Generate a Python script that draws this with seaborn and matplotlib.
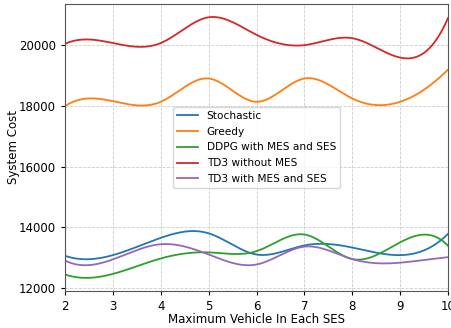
import numpy as np
import pandas as pd
import matplotlib
matplotlib.use('Agg')
import matplotlib.pyplot as plt
import seaborn as sns

# 데이터
vehicles = [2, 3, 4, 5, 6, 7, 8, 9, 10]
stochastic = [13056, 13080, 13650, 13800, 13100, 13400, 13330, 13080, 13780]
greedy = [18000, 18160, 18140, 18910, 18140, 18910, 18250, 18140, 19200]
ddpg_mes_ses = [12440, 12460, 12970, 13170, 13210, 13760, 12950, 13500, 13390]
td3_no_mes = [20056, 20080, 20080, 20930, 20350, 20010, 20240, 19600, 20900]
td3_mes_ses = [12900, 12940, 13440, 13100, 12770, 13360, 12950, 12830, 13010]

series_names = ['Stochastic', 'Greedy', 'DDPG with MES and SES',
                'TD3 without MES', 'TD3 with MES and SES']
series_values = [stochastic, greedy, ddpg_mes_ses, td3_no_mes, td3_mes_ses]


# not-a-knot 3차 스플라인 (등간격 노드)
def smooth_spline(x, y, n_points=300):
    x = np.asarray(x, dtype=float)
    y = np.asarray(y, dtype=float)
    n = len(x) - 1
    h = x[1] - x[0]
    A = np.zeros((n + 1, n + 1))
    b = np.zeros(n + 1)
    A[0, 0:3] = [1, -2, 1]
    A[n, n - 2:n + 1] = [1, -2, 1]
    for i in range(1, n):
        A[i, i - 1:i + 2] = [1, 4, 1]
        b[i] = 6 * (y[i + 1] - 2 * y[i] + y[i - 1]) / h ** 2
    M = np.linalg.solve(A, b)
    xs = np.linspace(x[0], x[-1], n_points)
    idx = np.clip(((xs - x[0]) // h).astype(int), 0, n - 1)
    t = (xs - x[idx]) / h
    ys = (M[idx] * (1 - t) ** 3 / 6 + M[idx + 1] * t ** 3 / 6) * h ** 2 \
        + (y[idx] - M[idx] * h ** 2 / 6) * (1 - t) \
        + (y[idx + 1] - M[idx + 1] * h ** 2 / 6) * t
    return xs, ys


frames = []
for name, vals in zip(series_names, series_values):
    xs, ys = smooth_spline(vehicles, vals)
    frames.append(pd.DataFrame({'x': xs, 'cost': ys, 'method': name}))
df = pd.concat(frames, ignore_index=True)

plt.rcParams['font.size'] = 8.5
plt.rcParams['xtick.major.size'] = 3
plt.rcParams['ytick.major.size'] = 3

fig, ax = plt.subplots(figsize=(4.52, 3.28), dpi=100)
sns.lineplot(data=df, x='x', y='cost', hue='method', hue_order=series_names,
             palette=sns.color_palette('tab10', 5), linewidth=1.3, ax=ax)

ax.set_xlim(2, 10)
ax.set_xticks(vehicles)
ax.set_xlabel('Maximum Vehicle In Each SES', labelpad=0)
ax.set_ylabel('System Cost', labelpad=-1)
ax.grid(True, linestyle='--', linewidth=0.6, color='#cccccc')
for s in ax.spines.values():
    s.set_color('#555555')
ax.legend(loc='center', title=None, fontsize=7.6, labelspacing=0.55)

plt.subplots_adjust(left=0.144, right=0.991, top=0.988, bottom=0.113)
plt.savefig('out.png', dpi=100)
